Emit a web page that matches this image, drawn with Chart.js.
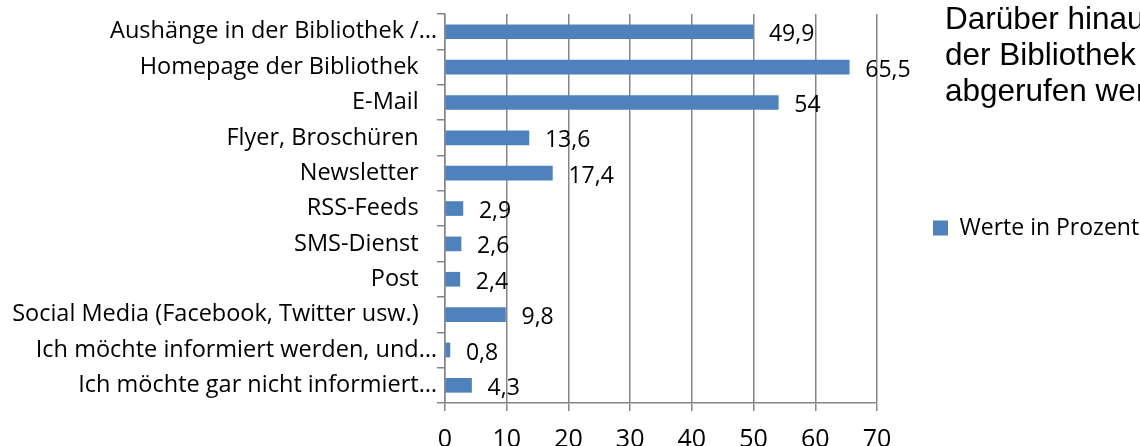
<!DOCTYPE html>
<html lang="de">
<head>
<meta charset="utf-8">
<title>Werte in Prozent</title>
<script src="https://cdn.jsdelivr.net/npm/chart.js@4/dist/chart.umd.min.js"></script>
<style>
  html, body { margin: 0; padding: 0; background: #fff; overflow: hidden; }
  #wrap { position: relative; width: 1140px; height: 446px; overflow: hidden; }
  #note {
    position: absolute; left: 945px; top: 0;
    font: 31.5px 'Liberation Sans', Arial, sans-serif; line-height: 36px;
    color: #000; white-space: nowrap;
  }
</style>
</head>
<body>
<div id="wrap">
  <canvas id="chartCanvas" width="1140" height="446"></canvas>
  <div id="note">Darüber hinaus<br>der Bibliothek<br>abgerufen werden</div>
</div>
<script>
const kategorien = [
  'Aushänge in der Bibliothek /…',
  'Homepage der Bibliothek',
  'E-Mail',
  'Flyer, Broschüren',
  'Newsletter',
  'RSS-Feeds',
  'SMS-Dienst',
  'Post',
  'Social Media (Facebook, Twitter usw.)',
  'Ich möchte informiert werden, und…',
  'Ich möchte gar nicht informiert…'
];
const werte = [49.9, 65.5, 54, 13.6, 17.4, 2.9, 2.6, 2.4, 9.8, 0.8, 4.3];
const xMin = 0;
const xMax = 70;
const xStep = 10;

const achsenGrau = '#868686';

// Zahlen mit Komma neben die Balken schreiben
const wertLabels = {
  id: 'wertLabels',
  afterDatasetsDraw(chart) {
    const ctx = chart.ctx;
    const meta = chart.getDatasetMeta(0);
    ctx.save();
    ctx.font = "23px 'Open Sans'";
    ctx.fillStyle = '#000';
    ctx.textAlign = 'left';
    ctx.textBaseline = 'middle';
    meta.data.forEach((bar, i) => {
      ctx.fillText(String(werte[i]).replace('.', ','), bar.x + 16, bar.y + 3);
    });
    ctx.restore();
  }
};

// Legende etwas vom Diagramm absetzen
const legendeBreite = {
  id: 'legendeBreite',
  beforeInit(chart) {
    if (!chart.legend) return;
    const fit = chart.legend.fit;
    chart.legend.fit = function () {
      fit.call(this);
      this.width = 263;
    };
  }
};

Chart.defaults.font.family = "'Open Sans', sans-serif";
Chart.defaults.color = '#000';

const ctx = document.getElementById('chartCanvas').getContext('2d');
window.chart = new Chart(ctx, {
  type: 'bar',
  data: {
    labels: kategorien,
    datasets: [{
      label: 'Werte in Prozent',
      data: werte,
      backgroundColor: '#4f81bd',
      borderWidth: 0,
      barThickness: 14
    }]
  },
  options: {
    indexAxis: 'y',
    responsive: false,
    animation: false,
    devicePixelRatio: 1,
    layout: { padding: { top: 10, left: 0, right: 0, bottom: 0 } },
    plugins: {
      legend: {
        position: 'right',
        labels: {
          boxWidth: 15,
          boxHeight: 15,
          padding: 56,
          font: { size: 23 },
          color: '#000'
        }
      },
      tooltip: { enabled: false }
    },
    scales: {
      y: {
        grid: { drawOnChartArea: false, tickLength: 8, color: achsenGrau, lineWidth: 1.5 },
        border: { color: achsenGrau, width: 1.5 },
        ticks: {
          padding: 0,
          font: { size: 23.5 },
          color: '#000',
          callback(v) {
            const l = this.getLabelForValue(v);
            return l.endsWith('…') ? l : l + '   ';
          }
        },
        afterFit(scale) { scale.width = 445; }
      },
      x: {
        min: xMin,
        max: xMax,
        ticks: { stepSize: xStep, font: { size: 25 }, padding: 14, color: '#000' },
        grid: { color: achsenGrau, lineWidth: 1.5, tickLength: 8 },
        border: { color: achsenGrau, width: 1.5 },
        afterFit(scale) { scale.height = 43; }
      }
    }
  },
  plugins: [wertLabels, legendeBreite]
});
</script>
</body>
</html>
